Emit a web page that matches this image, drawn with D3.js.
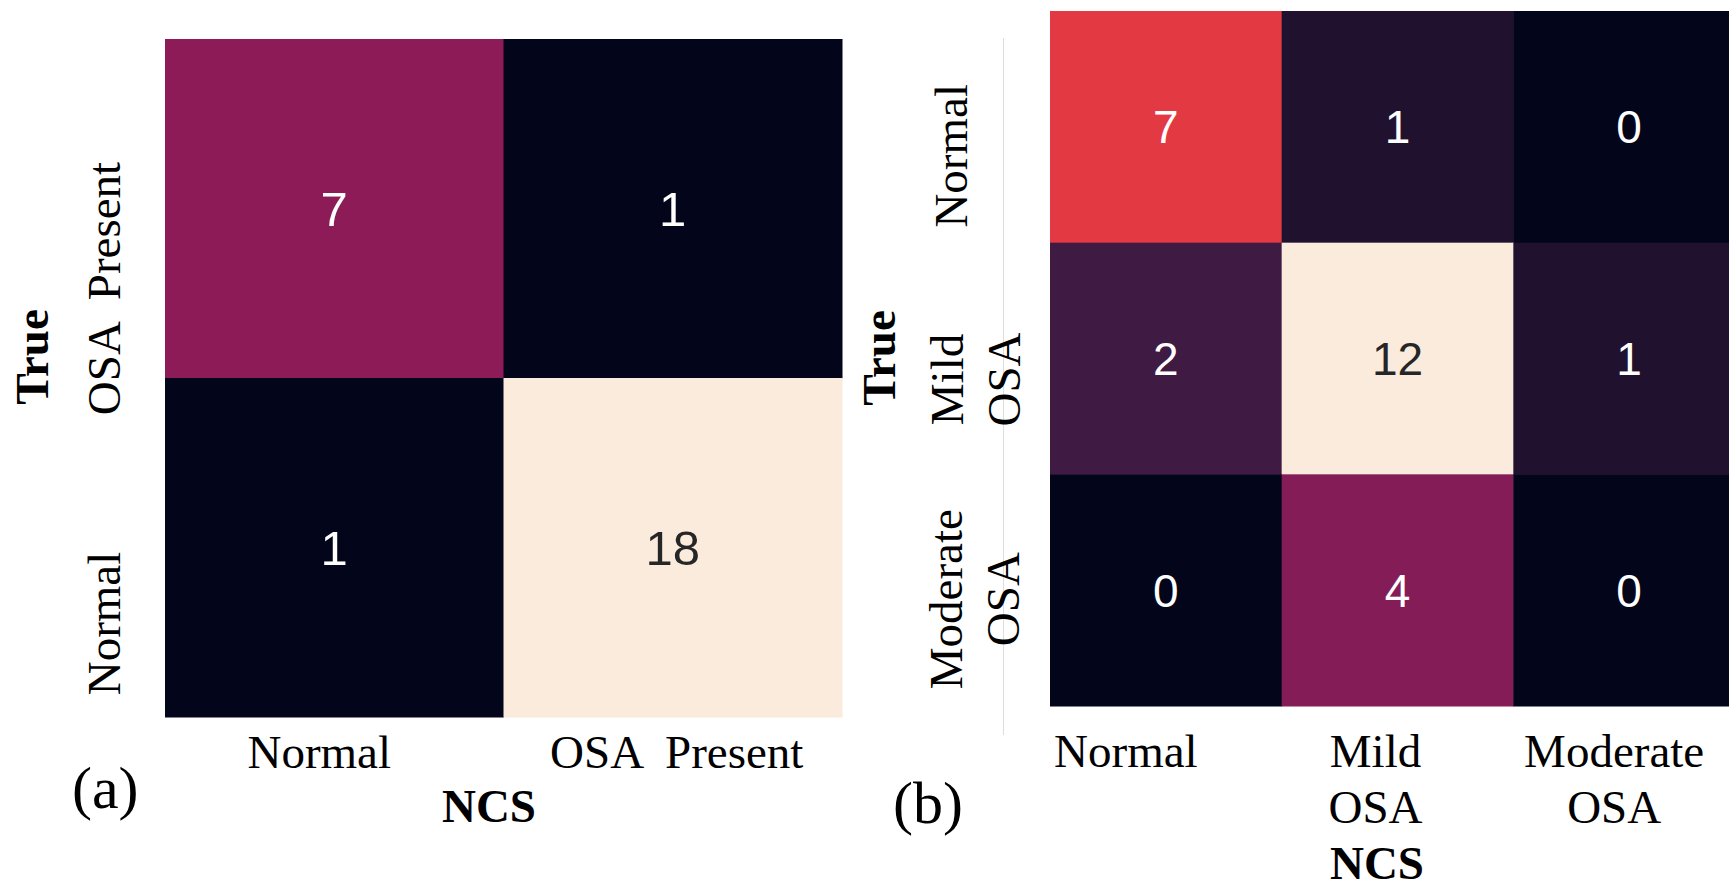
<!DOCTYPE html>
<html>
<head>
<meta charset="utf-8">
<script src="https://cdn.jsdelivr.net/npm/d3@7"></script>
<style>
  body { margin: 0; background: #fff; }
  text { white-space: pre; }
</style>
</head>
<body>
<script>
// Chart data
const labelsA = ["OSA  Present", "Normal"];          // rows (True) and columns (NCS), panel (a)
const colLabelsA = ["Normal", "OSA  Present"];
const valuesA = [
  [7, 1],
  [1, 18]
];

const rowLabelsB = ["Normal", "Mild\nOSA", "Moderate\nOSA"];
const colLabelsB = ["Normal", "Mild\nOSA", "Moderate\nOSA"];
const valuesB = [
  [7, 1, 0],
  [2, 12, 1],
  [0, 4, 0]
];

const width = 1729;
const height = 889;

const svg = d3.select('body')
    .append('svg')
    .attr('width', width)
    .attr('height', height);

// seaborn "rocket" colormap, sampled at equal steps
const rocket = d3.piecewise(d3.interpolateRgb, [
  '#03051a', '#35193e', '#701f57', '#ad1759',
  '#e13342', '#f37651', '#f6b48f', '#faebdd'
]);

const serif = '"Liberation Serif", "Times New Roman", serif';
const sans = '"Liberation Sans", Arial, sans-serif';

function drawPanel(cfg) {
  const x = d3.scaleBand().domain(d3.range(cfg.cols.length)).range(cfg.xRange);
  const y = d3.scaleBand().domain(d3.range(cfg.rows.length)).range(cfg.yRange);
  const flat = cfg.values.flatMap((row, i) => row.map((v, j) => ({ i, j, v })));
  const color = d3.scaleSequential(rocket)
      .domain(d3.extent(flat, d => d.v));

  const g = svg.append('g');

  g.selectAll('rect')
      .data(flat)
      .enter()
      .append('rect')
      .attr('x', d => x(d.j))
      .attr('y', d => y(d.i))
      .attr('width', x.bandwidth() + 0.5)
      .attr('height', y.bandwidth() + 0.5)
      .attr('fill', d => color(d.v));

  // annotations
  g.selectAll('.annot')
      .data(flat)
      .enter()
      .append('text')
      .attr('class', 'annot')
      .attr('x', d => x(d.j) + x.bandwidth() / 2)
      .attr('y', d => y(d.i) + y.bandwidth() / 2)
      .attr('dy', '0.36em')
      .attr('text-anchor', 'middle')
      .style('font-family', sans)
      .style('font-size', cfg.annotSize + 'px')
      .style('fill', d => (color.domain()[1] - d.v) / (color.domain()[1] - color.domain()[0]) < 0.3 ? '#262626' : '#ffffff')
      .text(d => d.v);

  // column tick labels (NCS)
  cfg.cols.forEach((lab, j) => {
    const t = g.append('text')
        .attr('text-anchor', 'middle')
        .style('font-family', serif)
        .style('font-size', '47px')
        .attr('transform', `translate(${x(j) + x.bandwidth() / 2 + cfg.colShift[j]}, ${cfg.colBase})`);
    lab.split('\n').forEach((line, k) => {
      t.append('tspan').attr('x', 0).attr('y', k * 56).text(line);
    });
  });

  // row tick labels (True)
  cfg.rows.forEach((lab, i) => {
    const t = g.append('text')
        .attr('text-anchor', 'middle')
        .style('font-family', serif)
        .style('font-size', '47px')
        .attr('transform', `translate(${cfg.rowBase[i]}, ${y(i) + y.bandwidth() / 2 + cfg.rowShift[i]}) rotate(-90)`);
    lab.split('\n').forEach((line, k) => {
      t.append('tspan').attr('x', 0).attr('y', k * 57).text(line);
    });
  });

  // axis titles
  g.append('text')
      .attr('x', cfg.xTitle[0])
      .attr('y', cfg.xTitle[1])
      .attr('text-anchor', 'middle')
      .style('font-family', serif)
      .style('font-weight', 'bold')
      .style('font-size', '47px')
      .text('NCS');

  g.append('text')
      .attr('transform', `translate(${cfg.yTitle[0]}, ${cfg.yTitle[1]}) rotate(-90)`)
      .attr('text-anchor', 'middle')
      .style('font-family', serif)
      .style('font-weight', 'bold')
      .style('font-size', '47px')
      .text('True');

  // panel tag
  g.append('text')
      .attr('x', cfg.tag[0])
      .attr('y', cfg.tag[1])
      .style('font-family', serif)
      .style('font-size', '60px')
      .text(cfg.tagText);
}

drawPanel({
  rows: labelsA,
  cols: colLabelsA,
  values: valuesA,
  xRange: [165, 842],
  yRange: [39, 717],
  annotSize: 49,
  colShift: [-15, 4],
  colBase: 768,
  rowShift: [80, 76],
  rowBase: [120, 120],
  xTitle: [489, 822],
  yTitle: [48, 357],
  tag: [72, 808],
  tagText: '(a)'
});

// thin separator between the panels
svg.append('line')
    .attr('x1', 1003.5).attr('x2', 1003.5)
    .attr('y1', 38).attr('y2', 735)
    .attr('stroke', '#dddddd')
    .attr('stroke-width', 1);

drawPanel({
  rows: rowLabelsB,
  cols: colLabelsB,
  values: valuesB,
  xRange: [1050, 1745],
  yRange: [11, 706],
  annotSize: 46,
  colShift: [-40, -22, -15],
  colBase: 767,
  rowShift: [29, 21, 9],
  rowBase: [967, 963, 962],
  xTitle: [1377, 879],
  yTitle: [895, 358],
  tag: [893, 823],
  tagText: '(b)'
});
</script>
</body>
</html>
